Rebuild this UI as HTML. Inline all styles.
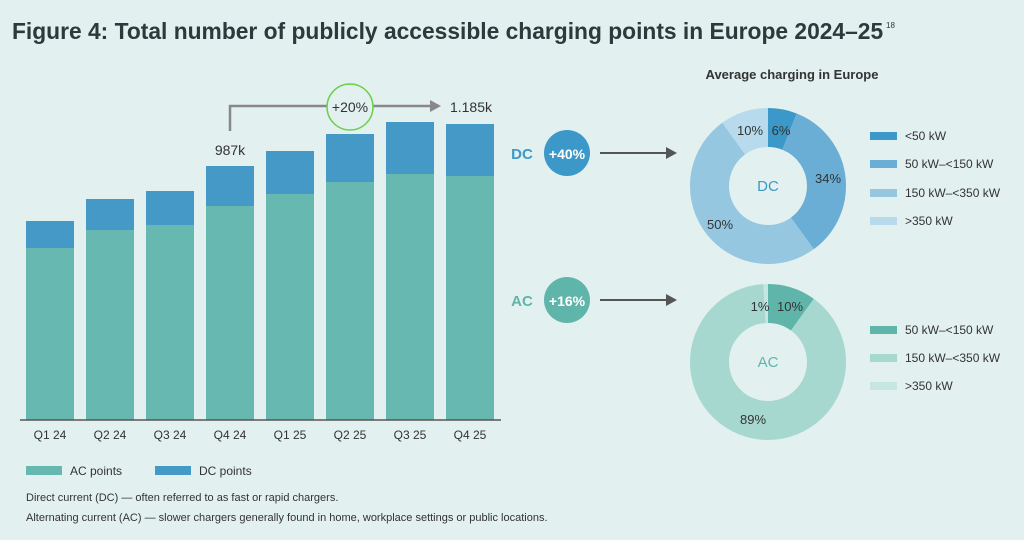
<!DOCTYPE html>
<html><head><meta charset="utf-8"><style>
html,body{margin:0;padding:0;background:#e2f0ef;}
svg{display:block;font-family:"Liberation Sans",sans-serif;}
</style></head><body>
<svg width="1024" height="540" viewBox="0 0 1024 540">
<rect width="1024" height="540" fill="#e2f0ef"/>
<text x="12" y="39" font-size="22.8" font-weight="bold" fill="#2b3a3a">Figure 4: Total number of publicly accessible charging points in Europe 2024–25</text>
<text x="886" y="28" font-size="8" fill="#2b3a3a">18</text>
<g>
<rect x="26" y="221" width="48" height="27" fill="#4599c7"/><rect x="26" y="248" width="48" height="172" fill="#67b8b1"/>
<rect x="86" y="199" width="48" height="31" fill="#4599c7"/><rect x="86" y="230" width="48" height="190" fill="#67b8b1"/>
<rect x="146" y="191" width="48" height="34" fill="#4599c7"/><rect x="146" y="225" width="48" height="195" fill="#67b8b1"/>
<rect x="206" y="166" width="48" height="40" fill="#4599c7"/><rect x="206" y="206" width="48" height="214" fill="#67b8b1"/>
<rect x="266" y="151" width="48" height="43" fill="#4599c7"/><rect x="266" y="194" width="48" height="226" fill="#67b8b1"/>
<rect x="326" y="134" width="48" height="48" fill="#4599c7"/><rect x="326" y="182" width="48" height="238" fill="#67b8b1"/>
<rect x="386" y="122" width="48" height="52" fill="#4599c7"/><rect x="386" y="174" width="48" height="246" fill="#67b8b1"/>
<rect x="446" y="124" width="48" height="52" fill="#4599c7"/><rect x="446" y="176" width="48" height="244" fill="#67b8b1"/>
</g>
<line x1="20" y1="420" x2="501" y2="420" stroke="#555" stroke-width="1.5"/>
<g font-size="12" fill="#333" text-anchor="middle">
<text x="50" y="439">Q1 24</text><text x="110" y="439">Q2 24</text><text x="170" y="439">Q3 24</text><text x="230" y="439">Q4 24</text>
<text x="290" y="439">Q1 25</text><text x="350" y="439">Q2 25</text><text x="410" y="439">Q3 25</text><text x="470" y="439">Q4 25</text>
</g>
<polyline points="230,131 230,106 433,106" fill="none" stroke="#888" stroke-width="2.5"/>
<polygon points="430,100 441,106 430,112" fill="#888"/>
<circle cx="350" cy="107" r="23" fill="#e2f0ef" stroke="#6dd04a" stroke-width="1.5"/>
<text x="350" y="112" font-size="14" text-anchor="middle" fill="#333">+20%</text>
<text x="230" y="155" font-size="14" text-anchor="middle" fill="#333">987k</text>
<text x="471" y="112" font-size="14" text-anchor="middle" fill="#333">1.185k</text>
<rect x="26" y="466" width="36" height="9" fill="#67b8b1"/><text x="70" y="475" font-size="12" fill="#333">AC points</text>
<rect x="155" y="466" width="36" height="9" fill="#4599c7"/><text x="199" y="475" font-size="12" fill="#333">DC points</text>
<text x="26" y="501" font-size="11" fill="#333">Direct current (DC) — often referred to as fast or rapid chargers.</text>
<text x="26" y="521" font-size="11" fill="#333">Alternating current (AC) — slower chargers generally found in home, workplace settings or public locations.</text>

<text x="792" y="79" font-size="13" font-weight="bold" text-anchor="middle" fill="#333">Average charging in Europe</text>
<text x="522" y="159" font-size="15" font-weight="bold" text-anchor="middle" fill="#3c98c8">DC</text>
<circle cx="567" cy="153" r="23" fill="#3c98c8"/>
<text x="567" y="159" font-size="14" font-weight="bold" text-anchor="middle" fill="#fff">+40%</text>
<line x1="600" y1="153" x2="668" y2="153" stroke="#555" stroke-width="2"/><polygon points="666,147 677,153 666,159" fill="#555"/>
<text x="522" y="306" font-size="15" font-weight="bold" text-anchor="middle" fill="#5fb5aa">AC</text>
<circle cx="567" cy="300" r="23" fill="#5fb5aa"/>
<text x="567" y="306" font-size="14" font-weight="bold" text-anchor="middle" fill="#fff">+16%</text>
<line x1="600" y1="300" x2="668" y2="300" stroke="#555" stroke-width="2"/><polygon points="666,294 677,300 666,306" fill="#555"/>

<g transform="rotate(-90 768 186)" fill="none" stroke-width="39">
<circle cx="768" cy="186" r="58.5" stroke="#3c98c8" stroke-dasharray="22.05 400" stroke-dashoffset="0"/>
<circle cx="768" cy="186" r="58.5" stroke="#6aaed6" stroke-dasharray="124.97 400" stroke-dashoffset="-22.05"/>
<circle cx="768" cy="186" r="58.5" stroke="#95c7e0" stroke-dasharray="183.78 400" stroke-dashoffset="-147.03"/>
<circle cx="768" cy="186" r="58.5" stroke="#b7dbec" stroke-dasharray="36.76 400" stroke-dashoffset="-330.81"/>
</g>
<g font-size="13" fill="#333" text-anchor="middle">
<text x="750" y="135">10%</text><text x="781" y="135">6%</text><text x="828" y="183">34%</text><text x="720" y="229">50%</text>
</g>
<text x="768" y="191" font-size="15" text-anchor="middle" fill="#3c98c8">DC</text>

<g transform="rotate(-90 768 362)" fill="none" stroke-width="39">
<circle cx="768" cy="362" r="58.5" stroke="#5fb5aa" stroke-dasharray="36.76 400" stroke-dashoffset="0"/>
<circle cx="768" cy="362" r="58.5" stroke="#a6d8d0" stroke-dasharray="327.14 400" stroke-dashoffset="-36.76"/>
<circle cx="768" cy="362" r="58.5" stroke="#c5e6e1" stroke-dasharray="3.68 400" stroke-dashoffset="-363.9"/>
</g>
<g font-size="13" fill="#333" text-anchor="middle">
<text x="760" y="311">1%</text><text x="790" y="311">10%</text><text x="753" y="424">89%</text>
</g>
<text x="768" y="367" font-size="15" text-anchor="middle" fill="#5fb5aa">AC</text>

<g font-size="12" fill="#333">
<rect x="870" y="132" width="27" height="8" fill="#3c98c8"/><text x="905" y="140">&lt;50 kW</text>
<rect x="870" y="160" width="27" height="8" fill="#6aaed6"/><text x="905" y="168">50 kW–&lt;150 kW</text>
<rect x="870" y="189" width="27" height="8" fill="#95c7e0"/><text x="905" y="197">150 kW–&lt;350 kW</text>
<rect x="870" y="217" width="27" height="8" fill="#b7dbec"/><text x="905" y="225">&gt;350 kW</text>
<rect x="870" y="326" width="27" height="8" fill="#5fb5aa"/><text x="905" y="334">50 kW–&lt;150 kW</text>
<rect x="870" y="354" width="27" height="8" fill="#a6d8d0"/><text x="905" y="362">150 kW–&lt;350 kW</text>
<rect x="870" y="382" width="27" height="8" fill="#c5e6e1"/><text x="905" y="390">&gt;350 kW</text>
</g>
</svg>
</body></html>
